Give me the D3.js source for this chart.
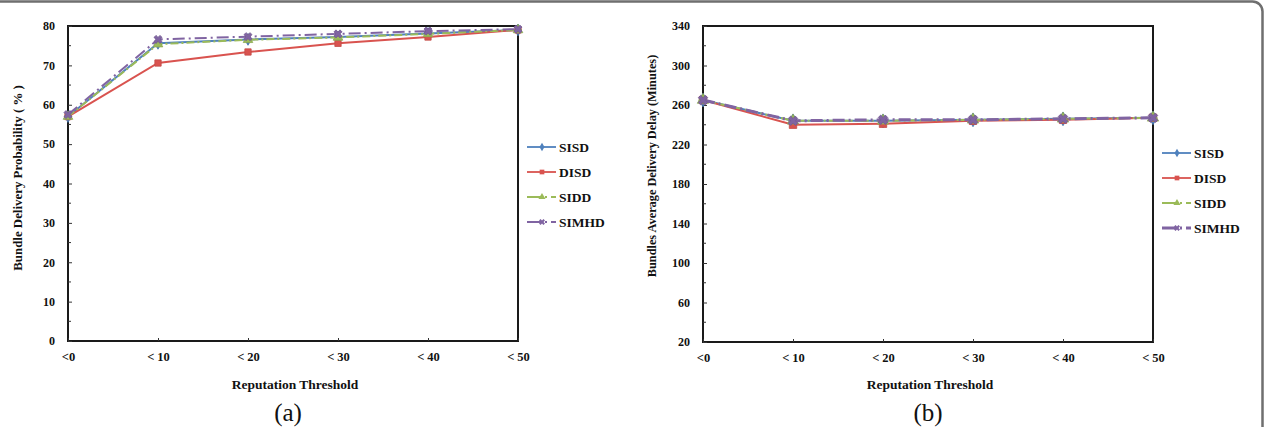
<!DOCTYPE html>
<html>
<head>
<meta charset="utf-8">
<script src="https://cdn.jsdelivr.net/npm/d3@7"></script>
<style>
  body { margin: 0; background: #fff; }
  svg { display: block; font-family: "Liberation Serif", "Times New Roman", serif; }
</style>
</head>
<body>
<div id="chart"></div>
<script>
const categories = ["<0", "< 10", "< 20", "< 30", "< 40", "< 50"];
const seriesNames = ["SISD", "DISD", "SIDD", "SIMHD"];

// panel (a) - delivery probability (%)
const probSISD = [57, 75.6, 76.6, 77.2, 78.1, 79];
const probDISD = [57, 70.6, 73.4, 75.6, 77.2, 79];
const probSIDD = [57, 75.4, 76.5, 77.1, 78, 79];
const probSIMHD = [57.5, 76.6, 77.3, 78, 78.7, 79.2];
const probTicks = [0, 10, 20, 30, 40, 50, 60, 70, 80];

// panel (b) - average delivery delay (minutes)
const delaySISD = [265, 244, 244, 245, 246, 247];
const delayDISD = [265, 240, 241, 244, 245, 247];
const delaySIDD = [265, 244, 244, 245, 246, 247];
const delaySIMHD = [265, 244, 245, 245, 246, 247];
const delayTicks = [20, 60, 100, 140, 180, 220, 260, 300, 340];

const W = 1269, H = 427;
const colors = { SISD: "#4f81bd", DISD: "#d9534f", SIDD: "#9bbb59", SIMHD: "#8064a2" };
const dashes = { SISD: null, DISD: null, SIDD: "8,3,2,3", SIMHD: "12,4,2,4" };

const svg = d3.select("#chart").append("svg")
    .attr("width", W)
    .attr("height", H);

// outer frame (only top and right visible)
svg.append("rect")
    .attr("x", -20).attr("y", 1.5)
    .attr("width", 1263 + 20 - 0.5).attr("height", H + 40)
    .attr("rx", 10)
    .attr("fill", "none")
    .attr("stroke", "#6f6f6f")
    .attr("stroke-width", 2.5);

function markerPath(name, size){
    if(name === "SISD") return d3.symbol(d3.symbolDiamond, size)();
    if(name === "DISD") return d3.symbol(d3.symbolSquare, size)();
    if(name === "SIDD") return d3.symbol(d3.symbolTriangle, size)();
    return d3.symbol(d3.symbolCross, size)();
}

function drawPanel(cfg){
    const g = svg.append("g");
    const x = d3.scalePoint().domain(categories).range([cfg.left, cfg.right]);
    const y = d3.scaleLinear().domain(cfg.domain).range([cfg.bottom, cfg.top]);

    // frame
    g.append("rect")
        .attr("x", cfg.left).attr("y", cfg.top)
        .attr("width", cfg.right - cfg.left).attr("height", cfg.bottom - cfg.top)
        .attr("fill", "none").attr("stroke", "#1a1a1a").attr("stroke-width", 2);

    // y axis with inward ticks
    const yAxis = d3.axisLeft(y).tickValues(cfg.ticks).tickSizeInner(-4).tickSizeOuter(0).tickPadding(13);
    const ya = g.append("g").attr("transform", `translate(${cfg.left},0)`).call(yAxis)
        .attr("font-family", null).attr("font-size", null);
    ya.select(".domain").remove();
    ya.selectAll("line").attr("stroke", "#333");
    ya.selectAll("text").attr("font-size", 12).attr("font-weight", "bold").attr("fill", "#111");

    const step = cfg.ticks[1] - cfg.ticks[0];
    const minor = cfg.ticks.slice(0, -1).map(t => t + step / 2);
    g.append("g").selectAll("line").data(minor).enter().append("line")
        .attr("x1", cfg.left).attr("x2", cfg.left + 3)
        .attr("y1", d => y(d)).attr("y2", d => y(d))
        .attr("stroke", "#333");

    // x axis
    const xAxis = d3.axisBottom(x).tickSizeInner(-3).tickSizeOuter(0).tickPadding(11);
    const xa = g.append("g").attr("transform", `translate(0,${cfg.bottom})`).call(xAxis)
        .attr("font-family", null).attr("font-size", null);
    xa.select(".domain").remove();
    xa.selectAll("line").attr("stroke", "#333");
    xa.selectAll("text").attr("font-size", 12.5).attr("font-weight", "bold").attr("fill", "#111");

    // titles
    g.append("text")
        .attr("x", (cfg.left + cfg.right) / 2 + 2).attr("y", 389)
        .attr("text-anchor", "middle")
        .attr("font-size", 13.5).attr("font-weight", "bold").attr("fill", "#111")
        .text("Reputation Threshold");

    g.append("text")
        .attr("transform", `translate(${cfg.yTitleX},${cfg.yTitleY}) rotate(-90)`)
        .attr("text-anchor", "middle")
        .attr("font-size", cfg.yTitleSize).attr("font-weight", "bold").attr("fill", "#111")
        .text(cfg.yTitle);

    g.append("text")
        .attr("x", cfg.captionX).attr("y", 421)
        .attr("text-anchor", "middle")
        .attr("font-size", 25).attr("fill", "#111")
        .text(cfg.caption);

    // series
    const line = d3.line().x((d, i) => x(categories[i])).y(d => y(d));
    seriesNames.forEach((name, k) => {
        const vals = cfg.series[k];
        const lw = name === "SIMHD" ? cfg.simhdWidth : 2;
        g.append("path")
            .datum(vals)
            .attr("d", line)
            .attr("fill", "none")
            .attr("stroke", colors[name])
            .attr("stroke-width", lw)
            .attr("stroke-dasharray", dashes[name]);
        g.append("g").selectAll("path").data(vals).enter().append("path")
            .attr("d", markerPath(name, cfg.markerSize))
            .attr("transform", (d, i) => `translate(${x(categories[i])},${y(d)})` + (name === "SIMHD" ? " rotate(45)" : ""))
            .attr("fill", colors[name])
            .attr("stroke", d3.color(colors[name]).darker(0.3))
            .attr("stroke-width", 0.8);
    });

    // legend
    const lg = g.append("g").attr("transform", `translate(${cfg.legendX},${cfg.legendY})`);
    seriesNames.forEach((name, k) => {
        const row = lg.append("g").attr("transform", `translate(0,${k * 25})`);
        row.append("line")
            .attr("x1", 0).attr("x2", 29).attr("y1", 0).attr("y2", 0)
            .attr("stroke", colors[name])
            .attr("stroke-width", name === "SIMHD" ? cfg.simhdWidth : 1.8)
            .attr("stroke-dasharray", dashes[name] ? "14,4,2,4" : null);
        row.append("path")
            .attr("d", markerPath(name, 22))
            .attr("transform", "translate(15,0)" + (name === "SIMHD" ? " rotate(45)" : ""))
            .attr("fill", colors[name]);
        row.append("text")
            .attr("x", 32).attr("y", 5)
            .attr("font-size", 13.5).attr("font-weight", "bold").attr("fill", "#111")
            .text(name);
    });
}

drawPanel({
    left: 68, right: 518, top: 26, bottom: 341,
    domain: [0, 80], ticks: probTicks,
    series: [probSISD, probDISD, probSIDD, probSIMHD],
    yTitle: "Bundle Delivery Probability ( % )", yTitleX: 22, yTitleY: 178, yTitleSize: 12.9,
    caption: "(a)", captionX: 288,
    legendX: 527, legendY: 147,
    markerSize: 40, simhdWidth: 2
});

drawPanel({
    left: 703, right: 1153, top: 26, bottom: 342,
    domain: [20, 340], ticks: delayTicks,
    series: [delaySISD, delayDISD, delaySIDD, delaySIMHD],
    yTitle: "Bundles Average Delivery Delay (Minutes)", yTitleX: 656, yTitleY: 166, yTitleSize: 12.3,
    caption: "(b)", captionX: 928,
    legendX: 1162, legendY: 153,
    markerSize: 55, simhdWidth: 3
});
</script>
</body>
</html>
